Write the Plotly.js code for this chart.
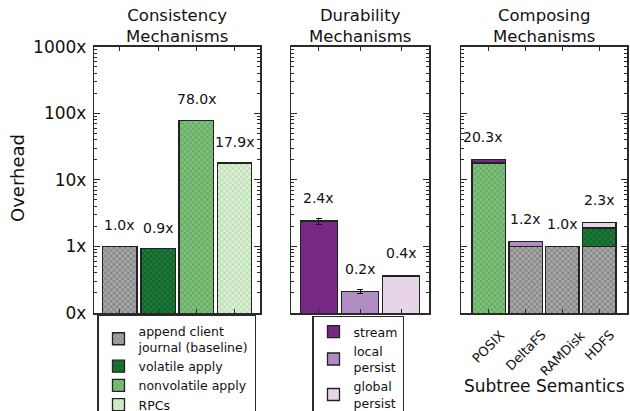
<!DOCTYPE html>
<html><head><meta charset="utf-8">
<script src="https://cdn.plot.ly/plotly-3.0.1.min.js"></script>
<style>html,body{margin:0;padding:0;background:#fff}#chart{width:630px;height:411px}</style>
</head><body><div id="chart"></div>
<script>
// ---- data ----
const consistencyNames = ['append client<br>journal (baseline)', 'volatile apply', 'nonvolatile apply', 'RPCs'];
const consistencyValues = [1.0, 0.92, 78.0, 17.9];
const durabilityNames = ['stream', 'local<br>persist', 'global<br>persist'];
const durabilityValues = [2.4, 0.21, 0.36];
const durabilityErrors = [0.25, 0.015, 0];
const composeCategories = ['POSIX', 'DeltaFS', 'RAMDisk', 'HDFS'];
const composeBaseline    = [null, 1.0, 1.0, 1.0];
const composeNonvolatile = [17.9, null, null, null];
const composeVolatile    = [null, null, null, 0.9];
const composeStream      = [2.4, null, null, null];
const composeLocal       = [null, 0.2, null, null];
const composeGlobal      = [null, null, null, 0.4];
const yTickValues = [0.1, 1, 10, 100, 1000];
const yTickLabels = ['0x', '1x', '10x', '100x', '1000x'];
const panelTitles = ['Consistency<br>Mechanisms', 'Durability<br>Mechanisms', 'Composing<br>Mechanisms'];

// ---- styles ----
const FONT = 'DejaVu Sans, Verdana, sans-serif';
const TXT = '#111';
const W = 630, H = 411;
const px = v => v / W, py = v => 1 - v / H;
const greenStyles = [
  {c: '#a6a6a6', fg: '#6c6c6c', hatch: true},
  {c: '#1b7837', fg: '#0c5322', hatch: true},
  {c: '#7fbf7b', fg: '#55994f', hatch: true},
  {c: '#d9f0d3', fg: '#a8d1a1', hatch: true}
];
const purpleStyles = [
  {c: '#762a83', hatch: false},
  {c: '#af8dc3', hatch: false},
  {c: '#e7d4e8', hatch: false}
];
function marker(s) {
  const m = {color: s.c, line: {color: '#222', width: 1.3}};
  if (s.hatch) m.pattern = {shape: 'x', size: 4, solidity: 0.3, fgcolor: s.fg, bgcolor: s.c, fillmode: 'replace'};
  return m;
}
const fmt = v => v.toFixed(1) + 'x';

const traces = [];
const annotations = [];

consistencyValues.forEach((v, i) => {
  traces.push({type: 'bar', x: [i], y: [v], xaxis: 'x', yaxis: 'y', width: 0.9,
    name: consistencyNames[i], legend: 'legend', marker: marker(greenStyles[i]), hoverinfo: 'skip'});
  annotations.push({xref: 'x', yref: 'y', x: i, y: Math.log10(v), text: fmt(v), showarrow: false,
    yanchor: 'bottom', yshift: 11, font: {size: 14, family: FONT, color: TXT}});
});

durabilityValues.forEach((v, i) => {
  traces.push({type: 'bar', x: [i], y: [v], xaxis: 'x2', yaxis: 'y2', width: 0.9,
    name: durabilityNames[i], legend: 'legend2', marker: marker(purpleStyles[i]), hoverinfo: 'skip',
    error_y: {type: 'data', array: [durabilityErrors[i]], visible: durabilityErrors[i] > 0, color: '#111', thickness: 1, width: 3}});
  annotations.push({xref: 'x2', yref: 'y2', x: i, y: Math.log10(v), text: fmt(v), showarrow: false,
    yanchor: 'bottom', yshift: 13, font: {size: 14, family: FONT, color: TXT}});
});

const composeSeries = [
  [composeBaseline, greenStyles[0]],
  [composeNonvolatile, greenStyles[2]],
  [composeVolatile, greenStyles[1]],
  [composeStream, purpleStyles[0]],
  [composeLocal, purpleStyles[1]],
  [composeGlobal, purpleStyles[2]]
];
const catIdx = composeCategories.map((c, i) => i);
composeSeries.forEach(([vals, s]) => {
  traces.push({type: 'bar', x: catIdx, y: vals, xaxis: 'x3', yaxis: 'y3', width: 0.9,
    showlegend: false, marker: marker(s), hoverinfo: 'skip'});
});
catIdx.forEach(i => {
  const total = composeSeries.reduce((a, [vals]) => a + (vals[i] || 0), 0);
  annotations.push({xref: 'x3', yref: 'y3', x: i, y: Math.log10(total), text: fmt(total), showarrow: false,
    yanchor: 'bottom', yshift: 12, xshift: i === 0 ? -6 : 0, font: {size: 14, family: FONT, color: TXT}});
  annotations.push({xref: 'x3', yref: 'paper', x: i, y: py(325), text: composeCategories[i], showarrow: false,
    textangle: -45, xanchor: 'center', yanchor: 'top', font: {size: 13, family: FONT, color: TXT}});
});

['x', 'x2', 'x3'].forEach((ax, k) => {
  annotations.push({xref: ax + ' domain', yref: 'paper', x: 0.5, y: py(26), text: panelTitles[k],
    showarrow: false, xanchor: 'center', yanchor: 'middle', font: {size: 16.5, family: FONT, color: TXT}});
});
annotations.push({xref: 'paper', yref: 'paper', x: px(17), y: py(178), text: 'Overhead', textangle: -90,
  showarrow: false, xanchor: 'center', yanchor: 'middle', font: {size: 18, family: FONT, color: TXT}});
annotations.push({xref: 'x3 domain', yref: 'paper', x: 0.5, y: py(386), text: 'Subtree Semantics',
  showarrow: false, xanchor: 'center', yanchor: 'middle', font: {size: 17, family: FONT, color: TXT}});

// ---- axes ----
const minorVals = [];
for (let d = 0.1; d < 1000; d *= 10) for (let k = 2; k <= 9; k++) minorVals.push(+(d * k).toPrecision(3));
const Y0 = py(313), Y1 = py(46.7);
const base = {showline: true, linecolor: '#2a2a2a', linewidth: 1.5, mirror: 'ticks', ticks: 'inside',
  tickcolor: '#2a2a2a', tickwidth: 1, showgrid: false, zeroline: false, fixedrange: true};
function xAx(domain, n, pad, anchor) {
  return Object.assign({}, base, {domain: domain, range: [-pad, n - 1 + pad], tickvals: [...Array(n).keys()],
    ticklen: 4, showticklabels: false, anchor: anchor});
}
function yAx(anchor, labels) {
  return Object.assign({}, base, {domain: [Y0, Y1], type: 'log', range: [-1, 3], tickvals: yTickValues,
    ticktext: yTickLabels, ticklen: 6, showticklabels: labels, anchor: anchor, ticklabelstandoff: 3,
    tickfont: {size: 17, family: FONT, color: TXT},
    minor: {ticks: 'inside', ticklen: 3, tickvals: minorVals, tickcolor: '#2a2a2a', tickwidth: 1, showgrid: false}});
}
const legendBase = {xanchor: 'left', yanchor: 'top', bordercolor: '#2a2a2a', borderwidth: 1.5, bgcolor: '#fff',
  font: {size: 12.5, family: FONT, color: TXT}, tracegroupgap: 0, traceorder: 'normal'};

const layout = {
  width: W, height: H, margin: {l: 0, r: 0, t: 0, b: 0, autoexpand: false},
  paper_bgcolor: '#fff', plot_bgcolor: '#fff', barmode: 'stack', showlegend: true,
  font: {family: FONT, color: TXT},
  xaxis: xAx([px(94.3), px(260)], 4, 0.67, 'y'),
  xaxis2: xAx([px(291), px(429)], 3, 0.68, 'y2'),
  xaxis3: xAx([px(461), px(627)], 4, 0.75, 'y3'),
  yaxis: yAx('x', true),
  yaxis2: yAx('x2', false),
  yaxis3: yAx('x3', false),
  legend: Object.assign({}, legendBase, {x: px(97), y: py(314.5)}),
  legend2: Object.assign({}, legendBase, {x: px(312), y: py(315.5)}),
  annotations: annotations
};
Plotly.newPlot('chart', traces, layout, {displayModeBar: false, staticPlot: true});
</script>
</body></html>
